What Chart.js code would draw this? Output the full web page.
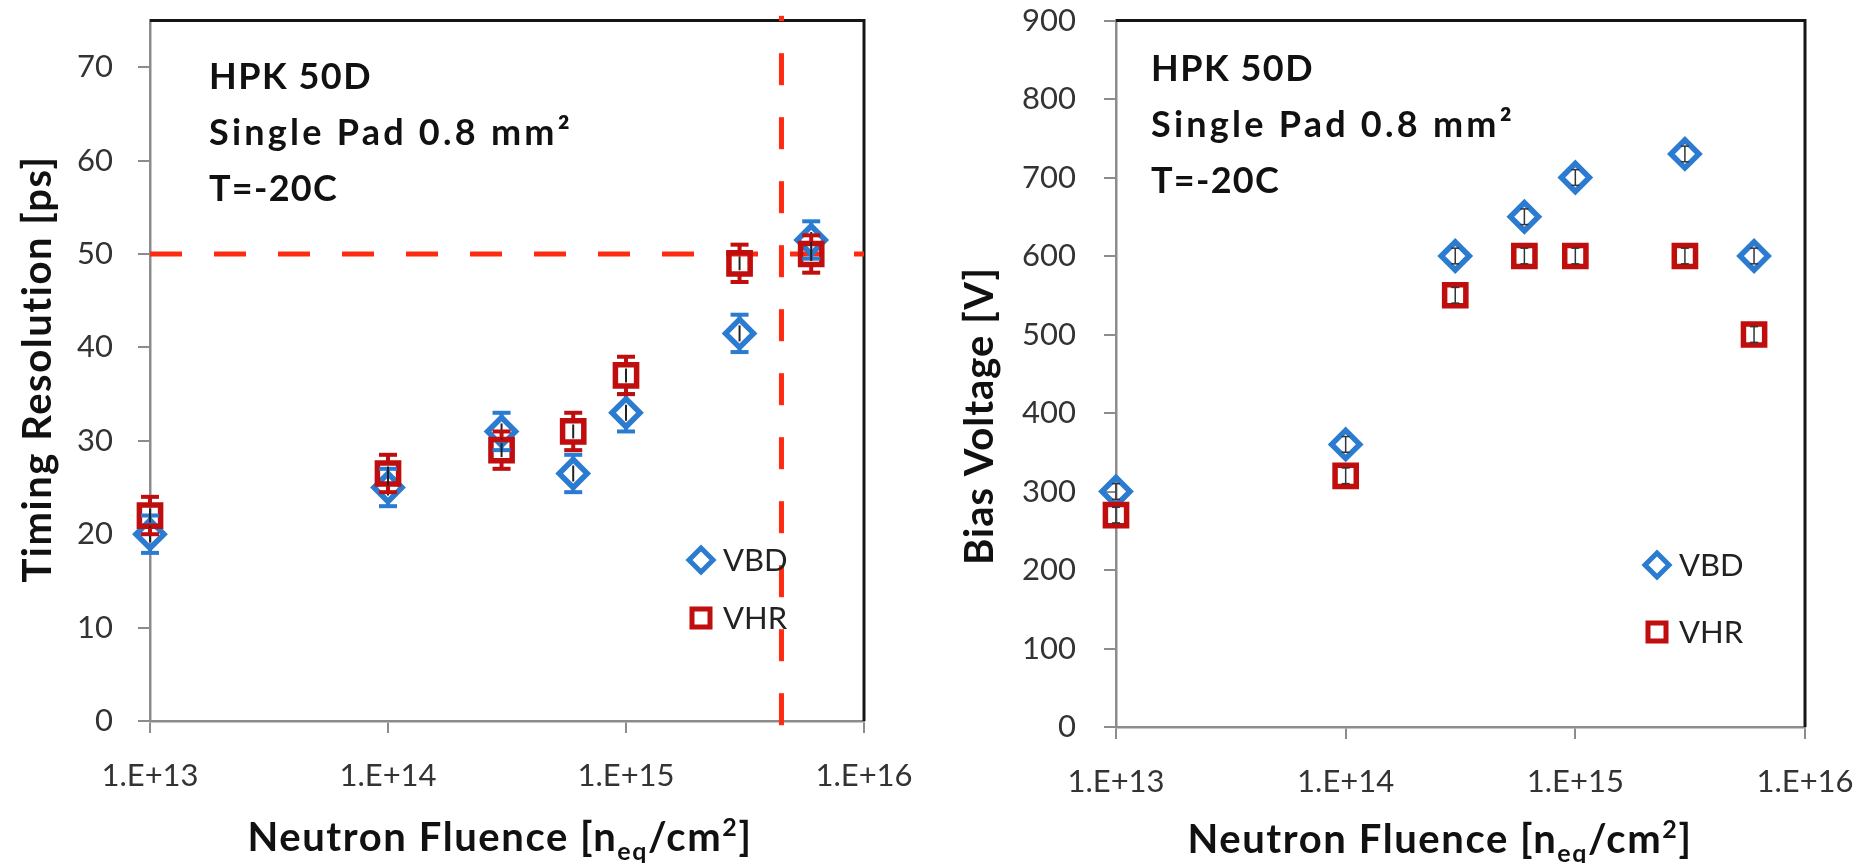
<!DOCTYPE html>
<html>
<head>
<meta charset="utf-8">
<script src="https://cdn.jsdelivr.net/npm/chart.js@4.4.0/dist/chart.umd.min.js"></script>
<style>
  html, body { margin: 0; padding: 0; background: #fff; }
  #wrap { position: relative; width: 1866px; height: 863px; }
  canvas { position: absolute; top: 0; }
  #timingChart { left: 0; }
  #biasChart { left: 930px; }
</style>
</head>
<body>
<div id="wrap">
  <canvas id="timingChart" width="925" height="863"></canvas>
  <canvas id="biasChart" width="936" height="863"></canvas>
</div>
<script>
// neutron fluence points [n_eq/cm2]
const fluence = [1e13, 1e14, 3e14, 6e14, 1e15, 3e15, 6e15];
const fluenceTicks = [1e13, 1e14, 1e15, 1e16];

// timing resolution [ps]
const timingVBD = [20, 25, 31, 26.5, 33, 41.5, 51.5];
const timingVHR = [22, 26.5, 29, 31, 37, 49, 50];
const timingErrVBD = [2, 2, 2, 2, 2, 2, 2];
const timingErrVHR = [2, 2, 2, 2, 2, 2, 2];
const timingTicks = [0, 10, 20, 30, 40, 50, 60, 70];

// bias voltage [V]
const biasVBD = [300, 360, 600, 650, 700, 730, 600];
const biasVHR = [270, 320, 550, 600, 600, 600, 500];
const biasErrVBD = [10, 10, 10, 10, 10, 10, 10];
const biasErrVHR = [10, 10, 10, 10, 10, 10, 10];
const biasTicks = [0, 100, 200, 300, 400, 500, 600, 700, 800, 900];

// 50 ps target and max fluence reference lines
const timingLimit = [50, 50];
const timingLimitX = [1e13, 1e16];
const fluenceLimit = [4.5e15, 4.5e15];
const fluenceLimitY = [-0.45, 75.5];

const seriesNames = ['VBD', 'VHR'];
const infoLines = ['HPK 50D', 'Single Pad 0.8 mm\u00b2', 'T=-20C'];
const infoWidths = [163, 364, 129];

const BLUE = '#2b7bd0';
const RED = '#c00d0d';
const DASH_RED = '#ff2a12';
const FONT = 'Lato';

Chart.defaults.font.family = FONT;
Chart.defaults.color = '#333';

function pts(xs, ys) {
  return xs.map((x, i) => ({ x: x, y: ys[i] }));
}

function seg(ctx, x1, y1, x2, y2) {
  ctx.beginPath();
  ctx.moveTo(x1, y1);
  ctx.lineTo(x2, y2);
  ctx.stroke();
}

// small letter spacing so the text is about as wide as in the original
function spread(ctx, text, target) {
  ctx.letterSpacing = '0px';
  const w = ctx.measureText(text).width;
  const sp = Math.max(0, (target - w) / text.length);
  ctx.letterSpacing = sp.toFixed(2) + 'px';
}

// excel style error bars, drawn from the data through the scales
const errorBars = {
  id: 'errorBars',
  afterDatasetsDraw(chart) {
    const ctx = chart.ctx;
    const xs = chart.scales.x, ys = chart.scales.y;
    chart.data.datasets.forEach(ds => {
      if (!ds.errors) return;
      ds.data.forEach((p, i) => {
        const e = ds.errors[i];
        const px = xs.getPixelForValue(p.x);
        const py = ys.getPixelForValue(p.y);
        const top = ys.getPixelForValue(p.y + e);
        const bot = ys.getPixelForValue(p.y - e);
        const h = ds.markerHalf;
        ctx.save();
        ctx.lineCap = 'butt';
        if (top < py - h) {
          ctx.strokeStyle = ds.borderColor;
          ctx.lineWidth = 4;
          seg(ctx, px, top, px, py - h);
          seg(ctx, px, py + h, px, bot);
          seg(ctx, px - 9, top, px + 9, top);
          seg(ctx, px - 9, bot, px + 9, bot);
          ctx.strokeStyle = '#222';
          ctx.lineWidth = 2;
          seg(ctx, px, py - h + 5, px, py + h - 5);
        } else {
          ctx.strokeStyle = '#333';
          ctx.lineWidth = 1.5;
          seg(ctx, px, top, px, bot);
          seg(ctx, px - 4, top, px + 4, top);
          seg(ctx, px - 4, bot, px + 4, bot);
        }
        ctx.restore();
      });
    });
  }
};

// frame, titles, text box and legend
const decor = {
  id: 'decor',
  beforeDatasetsDraw(chart) {
    const ctx = chart.ctx, a = chart.chartArea;
    ctx.save();
    ctx.strokeStyle = '#161616';
    ctx.lineWidth = 3;
    ctx.beginPath();
    ctx.moveTo(a.left, a.top);
    ctx.lineTo(a.right, a.top);
    ctx.lineTo(a.right, a.bottom);
    ctx.stroke();
    ctx.restore();
  },
  afterDraw(chart, args, o) {
    const ctx = chart.ctx;
    ctx.save();
    ctx.fillStyle = '#111';

    // text box
    ctx.font = 'bold 36px ' + FONT;
    ctx.textAlign = 'left';
    ctx.textBaseline = 'alphabetic';
    infoLines.forEach((t, i) => {
      spread(ctx, t, infoWidths[i]);
      ctx.fillText(t, o.infoX, o.infoY + i * 56);
    });

    // y title
    ctx.save();
    ctx.translate(o.yTitleX, o.yTitleY);
    ctx.rotate(-Math.PI / 2);
    ctx.textAlign = 'center';
    ctx.font = 'bold 40px ' + FONT;
    spread(ctx, o.yTitle, o.yTitleW);
    ctx.fillText(o.yTitle, 0, 0);
    ctx.restore();

    // x title with subscript and superscript
    const big = 'bold 40px ' + FONT, small = 'bold 25px ' + FONT;
    const parts = [
      ['Neutron Fluence [n', big, 0],
      ['eq', small, 9],
      ['/cm', big, 0],
      ['2', small, -15],
      [']', big, 0]
    ];
    let w = 0, n = 0;
    ctx.letterSpacing = '0px';
    parts.forEach(p => { ctx.font = p[1]; w += ctx.measureText(p[0]).width; n += p[0].length; });
    const sp = Math.max(0, (o.xTitleW - w) / n);
    ctx.letterSpacing = sp.toFixed(2) + 'px';
    let x = o.xTitleX - o.xTitleW / 2;
    ctx.textAlign = 'left';
    parts.forEach(p => {
      ctx.font = p[1];
      ctx.fillText(p[0], x, o.xTitleY + p[2]);
      x += ctx.measureText(p[0]).width;
    });
    ctx.letterSpacing = '0px';

    // legend
    ctx.font = '31px ' + FONT;
    ctx.fillStyle = '#222';
    ctx.lineWidth = 5;
    ctx.lineJoin = 'miter';
    ctx.strokeStyle = BLUE;
    ctx.beginPath();
    ctx.moveTo(o.legX, o.legY1 - 12);
    ctx.lineTo(o.legX + 12, o.legY1);
    ctx.lineTo(o.legX, o.legY1 + 12);
    ctx.lineTo(o.legX - 12, o.legY1);
    ctx.closePath();
    ctx.stroke();
    ctx.fillText(seriesNames[0], o.legX + 22, o.legY1 + 11);
    ctx.strokeStyle = RED;
    ctx.strokeRect(o.legX - 9, o.legY2 - 9, 18, 18);
    ctx.fillText(seriesNames[1], o.legX + 22, o.legY2 + 11);
    ctx.restore();
  }
};

function makeChart(id, cfg) {
  const datasets = [
    {
      label: seriesNames[0],
      data: pts(fluence, cfg.vbd),
      errors: cfg.errVbd,
      markerHalf: 13,
      pointStyle: 'rectRot',
      pointRadius: cfg.diamondR,
      pointBorderWidth: 5.5,
      borderColor: BLUE,
      backgroundColor: 'rgba(0,0,0,0)',
      clip: false,
      order: 1
    },
    {
      label: seriesNames[1],
      data: pts(fluence, cfg.vhr),
      errors: cfg.errVhr,
      markerHalf: 12,
      pointStyle: 'rect',
      pointRadius: cfg.squareR,
      pointBorderWidth: 5.5,
      borderColor: RED,
      backgroundColor: 'rgba(0,0,0,0)',
      clip: false,
      order: 0
    }
  ].concat(cfg.extra || []);

  return new Chart(document.getElementById(id), {
    type: 'scatter',
    data: { datasets: datasets },
    options: {
      responsive: false,
      animation: false,
      layout: { padding: { top: cfg.top, right: 61, left: 0, bottom: 0 } },
      plugins: {
        legend: { display: false },
        tooltip: { enabled: false },
        decor: cfg.decor
      },
      scales: {
        x: {
          type: 'logarithmic',
          min: 1e13,
          max: 1e16,
          afterBuildTicks: s => { s.ticks = fluenceTicks.map(v => ({ value: v })); },
          afterFit: s => { s.height = cfg.xAxisH; s.paddingLeft = 0; s.paddingRight = 0; },
          ticks: {
            autoSkip: false,
            maxRotation: 0,
            padding: 24,
            font: { size: 31 },
            color: '#333',
            callback: v => '1.E+' + Math.round(Math.log10(v))
          },
          grid: { drawOnChartArea: false, tickLength: 12, color: '#8c8c8c', lineWidth: 2 },
          border: { color: '#8c8c8c', width: 2.5 }
        },
        y: {
          min: cfg.yMin,
          max: cfg.yMax,
          afterBuildTicks: s => { s.ticks = cfg.yTicks.map(v => ({ value: v })); },
          afterFit: s => { s.width = cfg.yAxisW; s.paddingTop = 0; s.paddingBottom = 0; },
          ticks: { padding: cfg.yPad, font: { size: 31 }, color: '#333' },
          grid: { drawOnChartArea: false, tickLength: 12, color: '#8c8c8c', lineWidth: 2 },
          border: { color: '#8c8c8c', width: 2.5 }
        }
      }
    },
    plugins: [decor, errorBars]
  });
}

makeChart('timingChart', {
  vbd: timingVBD, vhr: timingVHR,
  errVbd: timingErrVBD, errVhr: timingErrVHR,
  diamondR: 14, squareR: 15,
  yMin: 0, yMax: 75, yTicks: timingTicks,
  top: 18, xAxisH: 142, yAxisW: 150, yPad: 25,
  extra: [
    {
      label: 'limit',
      data: pts(timingLimitX, timingLimit),
      showLine: true, pointRadius: 0,
      borderColor: DASH_RED, borderWidth: 5, borderDash: [32, 32],
      clip: false, order: 2
    },
    {
      label: 'fluence',
      data: pts(fluenceLimit, fluenceLimitY),
      showLine: true, pointRadius: 0,
      borderColor: DASH_RED, borderWidth: 5, borderDash: [32, 32],
      clip: false, order: 2
    }
  ],
  decor: {
    infoX: 209, infoY: 89,
    yTitle: 'Timing Resolution [ps]', yTitleX: 51, yTitleY: 369, yTitleW: 428,
    xTitleX: 500, xTitleY: 851, xTitleW: 505,
    legX: 701, legY1: 560, legY2: 618
  }
});

makeChart('biasChart', {
  vbd: biasVBD, vhr: biasVHR,
  errVbd: biasErrVBD, errVhr: biasErrVHR,
  diamondR: 14, squareR: 15,
  yMin: 0, yMax: 900, yTicks: biasTicks,
  top: 16, xAxisH: 136, yAxisW: 186, yPad: 28,
  decor: {
    infoX: 221, infoY: 81,
    yTitle: 'Bias Voltage [V]', yTitleX: 63, yTitleY: 416, yTitleW: 298,
    xTitleX: 510, xTitleY: 853, xTitleW: 505,
    legX: 727, legY1: 565, legY2: 632
  }
});
</script>
</body>
</html>
